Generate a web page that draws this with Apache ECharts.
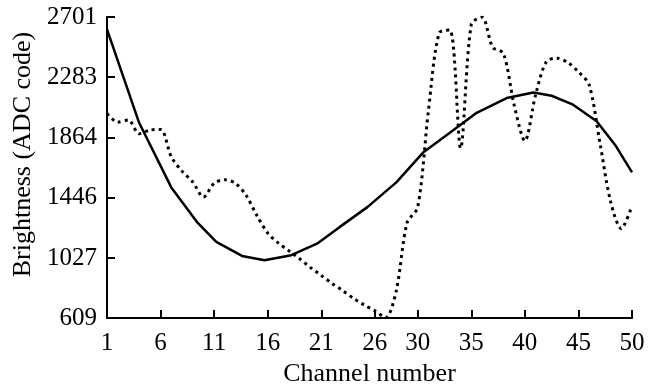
<!DOCTYPE html>
<html>
<head>
<meta charset="utf-8">
<script src="https://cdn.jsdelivr.net/npm/echarts@6/dist/echarts.min.js"></script>
<style>
  html, body { margin: 0; padding: 0; background: #fff; }
  #main { width: 653px; height: 392px; }
</style>
</head>
<body>
<div id="main"></div>
<script>
// tick labels
var xTicks = [1, 6, 11, 16, 21, 26, 30, 35, 40, 45, 50];
var yTicks = [609, 1027, 1446, 1864, 2283, 2701];

// solid curve (smoothed brightness)
var fitChannels = [1, 4, 7, 9.4, 11.2, 13.6, 15.7, 18.2, 20.6, 22.7, 25.3, 28, 30.5, 33, 35.5, 38.3, 40.8, 42.5, 44.5, 46.7, 48.5, 50];
var fitValues = [2615, 1966, 1517, 1276, 1138, 1041, 1011, 1046, 1126, 1241, 1380, 1552, 1759, 1897, 2035, 2138, 2177, 2154, 2092, 1977, 1804, 1621];

// dotted curve (raw brightness per channel)
var rawChannels = [1, 2, 3, 4, 5, 6, 7, 8, 9, 10, 11, 12, 13, 14, 15, 16, 17, 18, 19, 20, 21, 22, 23, 24, 25,
  26, 27, 28, 29, 30, 31, 32, 33, 34, 35, 36, 37, 38, 39, 40, 41, 42, 43, 44, 45, 46, 47, 48, 49, 50];
var rawValues = [2030, 1970, 1985, 1890, 1915, 1920, 1730, 1630, 1555, 1450, 1545, 1570, 1545, 1460, 1320, 1200, 1130, 1075, 1020, 960, 905, 850, 800, 747, 700,
  660, 612, 800, 1270, 1380, 2050, 2590, 2610, 1790, 2650, 2700, 2490, 2448, 2090, 1840, 2160, 2390, 2415, 2385, 2320, 2230, 1830, 1420, 1230, 1390];

function pairs(xs, ys) {
  return xs.map(function (x, i) { return [x, ys[i]]; });
}

var chart = echarts.init(document.getElementById('main'));
var font = 'Liberation Serif';

var option = {
  animation: false,
  grid: { left: 107, right: 21, top: 17, bottom: 72 },
  xAxis: {
    type: 'value',
    min: 1,
    max: 50,
    name: 'Channel number',
    nameLocation: 'middle',
    nameGap: 41,
    nameTextStyle: { fontFamily: font, fontSize: 26, color: '#000' },
    splitLine: { show: false },
    axisLine: { lineStyle: { color: '#000', width: 2 } },
    axisTick: { inside: true, length: 8, lineStyle: { color: '#000', width: 2 }, customValues: xTicks },
    axisLabel: {
      fontFamily: font, fontSize: 25, color: '#000', margin: 13, customValues: xTicks,
      formatter: function (v) { return String(v); }
    }
  },
  yAxis: {
    type: 'value',
    min: 609,
    max: 2701,
    name: 'Brightness (ADC code)',
    nameLocation: 'middle',
    nameGap: 70,
    nameRotate: 90,
    nameTextStyle: { fontFamily: font, fontSize: 26, color: '#000', padding: [0, 0, 0, 26] },
    splitLine: { show: false },
    axisLine: { show: true, lineStyle: { color: '#000', width: 2 } },
    axisTick: { show: true, inside: true, length: 8, lineStyle: { color: '#000', width: 2 }, customValues: yTicks },
    axisLabel: {
      fontFamily: font, fontSize: 25, color: '#000', margin: 10, customValues: yTicks,
      formatter: function (v) { return String(v); }
    }
  },
  series: [
    {
      type: 'line',
      data: pairs(rawChannels, rawValues),
      showSymbol: false,
      smooth: 0.3,
      lineStyle: { color: '#000', width: 3, type: [3, 4] }
    },
    {
      type: 'line',
      data: pairs(fitChannels, fitValues),
      showSymbol: false,
      lineStyle: { color: '#000', width: 2.5 }
    }
  ]
};

chart.setOption(option);
</script>
</body>
</html>
